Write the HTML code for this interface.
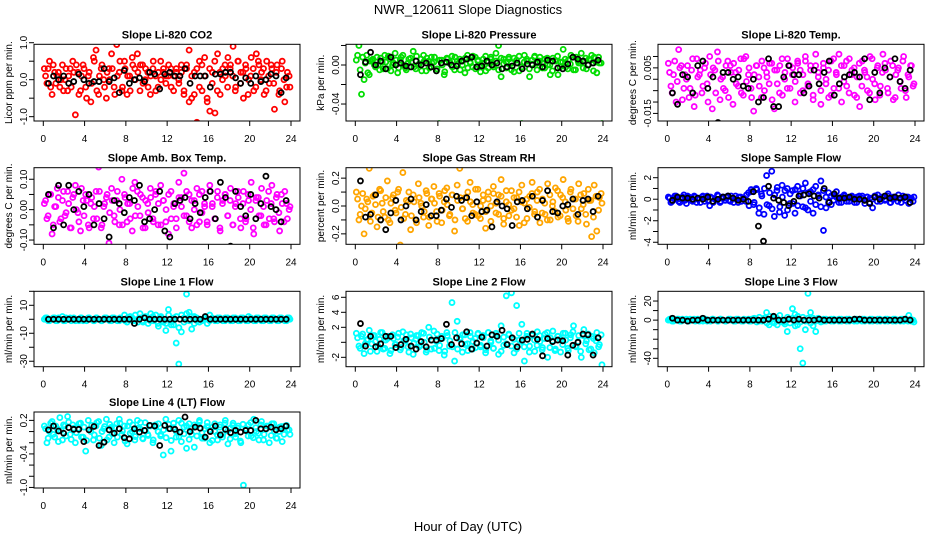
<!DOCTYPE html>
<html><head><meta charset="utf-8">
<style>
html,body{margin:0;padding:0;background:#fff;}
svg{display:block;font-family:"Liberation Sans",Arial,sans-serif;}
</style></head>
<body>
<svg id="chart" width="936" height="540" viewBox="0 0 936 540" xmlns="http://www.w3.org/2000/svg">
<rect width="936" height="540" fill="#fff"/>
<text x="468" y="14" font-size="13" text-anchor="middle">NWR_120611  Slope Diagnostics</text>
<text x="468" y="531" font-size="13" text-anchor="middle">Hour of Day (UTC)</text>
<g id="panels"></g>
</svg>
<script>
// ---- data ----
const xTickLabels = [0,4,8,12,16,20,24];
const co2Values = [0.3,-0.1,0.5,-0.4,0.2,0.1,-0.2,0.4,0.0,-0.3,0.3,0.5,-0.95,0.2,-0.3,0.4,-0.2,0.1,-0.6,0.6,0.8,-0.4,0.3,0.0,-0.5,0.3,0.7,-0.2,0.95,0.2,-0.3,0.5,-0.4,0.1,0.6,0.3,0.7,-0.3,0.4,0.0,0.2,-0.4,0.3,0.1,-0.2,0.5,0.2,-0.1,0.1,0.3,-0.3,0.2,0.0,0.4,-0.4,0.3,0.8,-0.5,0.2,-1.15,0.5,-0.3,0.6,-0.6,-0.85,0.2,-0.9,0.7,-0.4,0.3,0.1,0.6,0.4,0.9,-0.2,0.5,0.2,-0.5,0.3,0.0,0.6,-0.3,0.7,0.4,0.2,-0.4,0.5,-0.1,0.3,-0.8,0.4,-0.3,0.5,-0.6,0.2,-0.2];
const co2Values2 = [0.1,0.3,-0.2,0.4,-0.1,0.2,0.0,-0.3,0.3,0.1,-0.2,0.2,0.4,-0.4,0.1,0.3,-0.5,0.2,-0.1,0.5,-0.3,0.1,0.4,-0.2,0.2,0.0,0.3,-0.4,0.1,0.5,-0.2,0.3,0.1,-0.3,0.4,0.0,0.2,0.4,-0.1,0.3,-0.2,0.1,0.5,-0.3,0.2,0.0,0.3,0.1,0.4,-0.2,0.1,0.3,-0.1,0.2,-0.3,0.4,-0.6,0.1,-0.4,0.3,-0.2,0.4,0.1,-0.5,0.3,-0.1,0.5,-0.3,0.2,0.0,0.4,-0.2,0.3,0.1,-0.3,0.5,-0.1,0.2,0.4,-0.4,0.1,0.3,-0.2,0.5,0.0,0.3,-0.3,0.1,0.4,-0.1,0.2,-0.4,0.3,0.0,-0.2,0.1];
const co2Hourly = [-0.1,0.1,0.0,0.1,-0.1,-0.05,0.15,0.0,-0.1,-0.05,-0.05,0.3,-0.05,0.05,-0.35,0.25,-0.1,0.0,0.05,-0.05,0.2,0.15,-0.25,0.15,0.2,0.1,0.1,0.3,-0.1,0.1,0.1,0.1,-0.2,0.15,0.15,0.2,0.2,0.05,-0.1,0.05,-0.1,0.1,-0.05,0.0,0.15,0.1,-0.35,0.05];
const presValues = [0.005,0.02,-0.03,-0.015,0.01,-0.01,0.005,0.0,0.008,-0.005,0.003,0.01,-0.004,0.006,0.0,0.012,-0.008,0.005,0.01,-0.003,0.002,0.007,0.014,-0.004,0.0,0.006,0.01,-0.006,0.004,0.008,0.003,-0.006,-0.06,0.005,-0.01,0.007,0.002,0.009,-0.005,0.004,0.006,0.0,-0.008,0.01,0.003,-0.002,0.008,0.004,-0.007,0.002,0.009,-0.003,0.006,0.0,0.012,0.02,-0.012,0.006,0.003,0.008,-0.005,0.007,0.002,-0.006,-0.06,0.01,0.004,-0.012,0.005,0.009,0.002,0.008,-0.003,0.006,0.0,-0.01,0.007,0.004,-0.01,0.003,0.016,-0.002,0.005,0.01,-0.005,0.008,0.002,0.012,0.004,-0.004,0.006,0.01,0.008,-0.008,0.002,-0.06];
const presValues2 = [0.01,-0.005,0.008,0.002,-0.008,0.004,0.006,-0.002,0.0,0.007,-0.004,0.003,0.009,-0.006,0.002,0.005,-0.003,0.008,0.0,-0.005,0.006,0.003,-0.002,0.009,0.001,-0.006,0.004,0.007,-0.003,0.002,0.008,-0.004,0.005,0.0,-0.007,0.006,0.003,-0.002,0.008,0.001,-0.005,0.004,0.007,-0.003,0.002,0.009,-0.004,0.005,0.0,0.006,-0.006,0.003,0.008,-0.002,0.004,-0.005,0.007,0.001,-0.003,0.006,0.002,-0.007,0.005,0.009,-0.002,0.003,0.006,-0.004,0.001,0.008,-0.005,0.004,0.002,-0.003,0.007,0.0,-0.006,0.005,0.009,-0.002,0.003,0.006,-0.004,0.001,0.008,-0.005,0.004,0.002,-0.003,0.007,0.0,0.005,-0.006,0.003,0.008,0.002];
const presHourly = [-0.01,0.003,0.013,0.0,0.004,-0.004,0.008,0.0,0.002,-0.001,-0.002,0.004,0.0,0.002,-0.002,-0.006,0.002,0.003,0.0,-0.001,0.004,0.006,0.008,-0.002,-0.001,0.004,0.0,0.002,-0.004,-0.002,-0.001,0.002,-0.004,0.001,0.0,0.003,-0.002,0.005,0.004,-0.003,-0.004,0.001,0.008,0.006,0.004,0.0,0.002,0.005];
const tempValues = [0.007,-0.003,0.002,-0.01,0.013,0.006,-0.004,0.0,-0.008,0.004,-0.012,0.009,0.002,-0.006,0.005,-0.002,0.010,-0.013,0.004,0.012,-0.009,0.001,-0.005,0.008,0.006,-0.011,0.003,-0.003,0.009,-0.007,0.010,0.002,-0.004,-0.014,0.006,0.001,-0.008,0.005,0.003,-0.002,0.007,-0.013,0.004,-0.006,0.009,0.000,-0.004,0.006,0.002,-0.010,0.008,0.004,-0.005,0.010,-0.002,0.006,-0.007,0.011,0.003,-0.011,0.005,0.000,-0.008,0.008,-0.004,0.002,0.011,-0.010,0.006,-0.003,0.009,0.004,-0.007,0.001,-0.012,0.008,0.003,-0.005,0.010,0.000,-0.009,0.006,-0.003,0.011,0.004,-0.006,0.008,-0.009,0.002,0.005,-0.004,0.010,-0.008,0.001,0.006,-0.002];
const tempValues2 = [0.003,-0.006,0.008,-0.001,0.005,-0.009,0.002,0.006,-0.004,0.009,-0.007,0.001,0.004,-0.003,0.007,-0.010,0.002,0.005,-0.006,0.008,0.000,-0.004,0.006,-0.008,0.003,0.007,-0.002,0.004,-0.006,0.009,-0.001,0.005,-0.008,0.002,0.006,-0.003,0.008,-0.005,0.001,0.007,-0.009,0.004,-0.002,0.006,-0.007,0.003,0.009,-0.004,0.005,-0.001,0.007,-0.006,0.002,0.008,-0.003,0.004,-0.009,0.006,0.001,-0.005,0.007,-0.002,0.004,-0.007,0.009,0.003,-0.004,0.006,-0.001,0.008,-0.006,0.002,0.005,-0.008,0.007,-0.003,0.004,0.001,-0.006,0.009,-0.002,0.005,-0.007,0.003,0.007,-0.004,0.001,0.006,-0.008,0.004,-0.001,0.008,-0.005,0.002,0.006,-0.003];
const tempHourly = [-0.006,-0.011,0.002,0.001,-0.006,0.006,0.008,-0.004,0.001,-0.019,0.003,0.003,0.000,0.001,-0.003,-0.004,0.000,-0.010,-0.008,0.009,-0.012,-0.012,0.001,0.006,0.002,0.002,-0.006,-0.003,0.004,-0.002,0.003,0.008,-0.007,-0.002,0.001,0.002,0.003,0.001,0.009,-0.009,0.003,-0.006,0.005,0.001,0.009,-0.001,-0.004,0.004];
const ambValues = [0.02,-0.03,0.05,-0.08,0.01,0.07,-0.04,0.03,-0.02,0.06,-0.06,0.04,0.08,-0.01,-0.07,0.03,0.05,-0.05,0.02,-0.03,0.06,0.14,-0.06,0.01,0.04,-0.11,0.07,-0.02,0.03,-0.05,0.10,0.05,-0.04,0.02,-0.07,0.09,0.06,-0.02,0.04,-0.06,0.02,0.07,-0.03,0.05,-0.05,0.08,0.03,-0.04,-0.08,0.06,0.01,-0.03,0.09,0.04,0.12,-0.02,0.05,-0.06,0.03,0.07,-0.04,0.06,0.01,-0.05,0.08,0.02,-0.03,0.06,-0.07,0.03,0.05,-0.02,0.07,-0.05,0.02,0.04,-0.06,0.06,-0.03,0.03,0.09,-0.08,0.04,-0.02,0.07,-0.05,0.03,-0.03,0.08,-0.04,0.05,-0.07,0.02,0.06,-0.03,0.01];
const ambValues2 = [0.03,-0.02,0.05,-0.05,0.01,0.04,-0.03,0.06,-0.01,0.02,-0.06,0.05,0.00,-0.04,0.07,-0.02,0.03,-0.06,0.04,0.01,-0.03,0.06,-0.05,0.02,0.05,-0.01,0.03,-0.04,0.06,0.00,-0.05,0.04,0.02,-0.03,0.07,-0.02,0.01,0.05,-0.06,0.03,-0.01,0.04,-0.04,0.06,0.02,-0.05,0.03,0.00,0.05,-0.03,0.02,-0.06,0.04,0.01,-0.02,0.06,-0.04,0.03,0.00,-0.05,0.05,-0.01,0.02,-0.04,0.06,0.01,-0.03,0.04,-0.06,0.02,0.05,-0.02,0.03,-0.05,0.01,0.06,-0.03,0.02,-0.04,0.05,0.00,-0.06,0.03,0.04,-0.02,0.01,-0.05,0.06,0.02,-0.03,0.04,-0.01,0.05,-0.04,0.02,0.00];
const ambHourly = [0.05,-0.06,0.08,-0.05,0.08,0.00,0.06,0.01,0.05,-0.05,0.02,-0.03,-0.09,0.03,0.02,-0.01,0.04,0.03,0.08,-0.04,-0.03,0.00,0.06,-0.07,-0.09,0.02,0.03,0.04,-0.03,0.02,-0.01,0.04,0.06,-0.03,0.09,0.04,-0.12,0.06,0.01,-0.02,0.05,-0.03,0.02,0.11,0.01,0.00,-0.04,0.03];
const rhValues = [0.1,-0.1,0.0,-0.2,0.05,0.27,-0.05,0.08,-0.15,0.12,0.02,-0.08,0.18,-0.12,0.06,-0.03,0.1,-0.28,0.24,-0.06,0.03,-0.17,0.08,-0.1,0.16,0.02,-0.08,0.11,-0.14,0.05,0.14,-0.04,0.09,-0.12,0.03,0.13,-0.07,0.08,-0.18,0.15,0.27,-0.02,0.06,-0.11,0.17,0.01,-0.06,0.12,-0.09,0.04,-0.16,0.1,0.0,0.14,-0.05,0.08,0.19,-0.13,0.03,-0.07,0.11,-0.02,0.06,-0.14,0.15,0.02,-0.09,0.07,0.17,-0.04,0.1,-0.12,0.05,-0.06,0.16,-0.1,0.03,0.13,-0.08,0.08,0.19,-0.03,-0.11,0.12,0.05,-0.07,0.16,-0.02,0.09,-0.13,0.04,-0.22,0.15,-0.18,0.06,0.02];
const rhValues2 = [0.05,-0.06,0.09,-0.02,0.03,-0.11,0.07,0.01,-0.08,0.11,-0.04,0.06,-0.1,0.02,0.08,-0.05,0.12,-0.01,-0.09,0.04,0.1,-0.07,0.03,-0.12,0.06,0.0,-0.04,0.09,-0.08,0.05,0.02,-0.11,0.07,-0.03,0.11,0.01,-0.06,0.08,-0.1,0.04,0.06,-0.02,-0.09,0.1,0.03,-0.05,0.12,-0.07,0.0,0.08,-0.04,0.05,-0.11,0.09,0.02,-0.06,0.07,-0.09,0.11,0.01,-0.03,0.06,-0.08,0.1,0.03,-0.12,0.05,-0.01,0.09,-0.06,0.04,0.12,-0.05,0.02,-0.1,0.08,0.0,-0.04,0.11,-0.07,0.06,0.03,-0.09,0.1,-0.02,0.05,-0.11,0.08,0.01,-0.06,0.12,0.04,-0.08,0.07,-0.03,0.09];
const rhHourly = [0.18,-0.08,-0.06,0.08,-0.1,-0.17,-0.05,0.04,-0.1,0.0,0.05,-0.1,-0.04,0.01,-0.07,-0.07,-0.03,0.05,-0.01,0.07,0.04,0.06,-0.07,0.03,-0.04,-0.03,-0.15,0.03,0.0,-0.02,-0.14,0.03,0.04,-0.02,0.07,-0.08,0.04,0.11,-0.04,-0.05,0.0,0.01,0.05,-0.06,0.04,0.05,-0.04,0.07];
const sampleValues = [0.2,-0.3,0.1,0.3,-0.2,0.0,0.4,-0.4,0.2,-0.1,0.3,-0.3,0.1,0.2,-0.2,0.3,-0.6,0.1,0.0,0.4,-0.3,0.2,-0.1,0.3,-0.2,0.1,0.3,-0.3,0.2,0.0,-0.2,0.6,0.9,-0.5,1.0,-1.3,0.5,-1.4,2.2,-0.6,2.6,-1.6,0.8,-1.2,1.3,-1.5,1.0,-0.4,0.8,-1.3,1.2,0.5,-0.7,1.5,-1.0,0.7,-1.3,1.2,0.3,1.7,-2.9,-0.8,0.6,-0.5,0.4,0.7,-0.3,0.2,0.4,-0.2,0.1,0.3,-0.3,0.2,0.0,0.3,-0.4,0.2,0.1,-0.8,0.3,0.4,-0.2,0.2,0.0,0.5,-0.3,0.2,0.1,0.4,-0.3,0.1,0.2,-0.4,0.1,0.2];
const sampleValues2 = [0.1,-0.2,0.3,0.0,-0.3,0.2,-0.1,0.3,0.1,-0.2,0.2,0.0,-0.3,0.3,0.1,-0.1,0.2,-0.3,0.0,0.3,-0.2,0.1,0.2,-0.1,0.3,-0.3,0.0,0.2,-0.2,0.1,0.4,-0.6,0.7,-0.3,0.9,-0.8,0.3,1.0,-0.5,0.6,-0.9,0.4,1.1,-0.7,0.2,0.8,-1.0,0.5,-0.4,0.9,-0.6,0.3,1.0,-0.8,0.6,-0.2,0.9,-0.5,0.4,-0.7,0.8,0.2,-0.3,0.3,-0.1,0.2,0.0,-0.3,0.3,0.1,-0.2,0.2,0.0,-0.3,0.3,0.1,-0.1,0.2,-0.3,0.0,0.3,-0.2,0.1,0.2,-0.1,0.3,-0.3,0.0,0.2,-0.2,0.1,0.3,-0.1,0.2,0.0,-0.2];
const sampleHourly = [-0.1,0.2,0.1,0.1,0.0,0.1,0.0,0.2,-0.2,0.0,0.2,0.3,0.1,-0.1,0.0,-0.2,0.7,-2.5,-3.9,1.2,0.1,-0.1,-0.3,-0.6,-0.2,0.3,0.4,0.5,0.3,0.1,1.0,-0.3,0.5,0.1,0.1,0.2,0.0,0.0,-0.1,-0.4,0.2,0.0,0.3,0.1,0.2,0.1,0.2,-0.3];
const line1Values = [0,1,-1,0,1,-1,0,2,-1,0,1,0,-1,0,1,-1,0,1,0,-1,1,0,-1,0,1,0,-1,1,0,-1,0,3,-2,0,1,-1,0,4,-1,1,0,-1,2,0,-3,1,-1,-8,7,-2,-4,-17,-32,-9,1,18,5,-7,2,-1,-2,0,1,-3,3,0,-1,1,0,-1,1,0,-1,1,0,-1,1,0,-1,2,0,-1,1,0,-1,1,0,-1,1,0,-1,1,0,-1,1,0];
const line1Values2 = [1,-1,0,1,-1,1,0,-1,1,0,-1,1,0,-1,1,0,-1,1,0,-1,1,0,-1,1,0,-1,1,0,-1,1,0,-1,1,2,-1,3,-2,1,-2,2,-3,4,-1,3,-5,2,-2,-3,3,-4,1,2,-6,3,-2,4,-1,2,-3,1,0,-1,1,0,-1,1,0,-1,1,0,-1,1,0,-1,1,0,-1,1,0,-1,1,0,-1,1,0,-1,1,0,-1,1,0,-1,1,0,-1,1];
const line1Hourly = [0,0,0,0,0,0,0,0,0,0,0,0,0,0,0,0,0,-3,0,1,0,0,0,0,0,0,0,0,0,0,0,2,0,0,0,0,0,0,0,0,0,0,0,0,0,0,0,0];
const line2Values = [1.2,-0.5,0.8,-1.5,0.3,1.6,-0.2,0.9,-1.2,0.4,1.3,-0.8,0.5,-1.5,1.0,-0.3,0.7,-1.0,1.4,0.2,-0.6,1.1,-1.6,0.4,0.9,-0.4,1.2,-1.3,2.0,-0.9,1.5,0.1,-1.1,0.8,-1.7,1.3,-0.5,5.3,-2.5,2.8,0.6,-1.3,1.0,-0.2,1.3,-0.9,0.5,1.1,-0.6,0.9,-1.4,1.3,0.2,-0.8,1.2,-1.6,2.2,-0.4,6.2,1.0,6.6,-1.4,4.9,0.3,2.4,-2.5,1.2,-0.5,0.9,-1.2,1.4,0.1,-0.7,1.1,-2.0,0.6,1.5,-0.9,0.8,-1.3,1.2,0.3,-1.1,1.0,2.2,-0.6,0.9,-2.0,1.7,0.2,-1.0,0.8,-1.4,1.3,-0.3,-3.0];
const line2Values2 = [0.6,-0.8,1.1,-0.2,0.4,-1.2,0.9,0.1,-0.5,1.3,-0.9,0.3,0.8,-1.1,0.5,-0.3,1.2,-0.7,0.2,1.0,-1.3,0.6,-0.1,0.9,-0.6,1.3,0.0,-1.0,0.7,0.3,-0.8,1.1,-0.4,0.5,-1.2,0.9,0.2,-0.6,1.3,-0.9,0.4,1.0,-0.3,-1.1,0.8,0.1,-0.7,1.2,-0.4,0.6,-1.0,1.3,0.0,-0.8,0.9,0.3,-1.2,0.7,-0.2,1.1,-0.5,0.4,-0.9,1.2,0.1,-0.6,0.8,-1.3,1.0,0.3,-0.4,0.9,-1.0,0.5,1.3,-0.7,0.2,-1.1,0.8,0.4,-0.3,1.2,-0.8,0.6,1.4,-0.5,0.1,-1.2,0.9,-0.2,1.1,-0.9,0.5,0.2,-0.6,1.0];
const line2Hourly = [2.5,-0.5,0.8,-0.6,-0.2,0.8,0.8,-0.7,-0.3,0.4,-0.5,-0.9,0.1,-0.6,0.3,0.3,0.5,2.4,-0.3,0.6,-0.2,1.4,-0.9,-0.1,0.7,-0.5,1.0,0.8,1.6,-0.3,0.6,-0.6,0.3,0.4,1.1,0.4,-1.8,0.5,0.1,0.3,0.2,-1.7,-0.4,0.0,1.1,1.0,-1.7,0.6];
const line3Values = [0,1,-1,0,1,-1,0,1,-1,0,1,0,-1,0,1,-1,0,1,0,-1,1,0,-1,0,1,0,-1,1,0,-1,0,1,-1,0,1,-1,0,2,8,-5,1,-3,2,-1,0,-2,-12,1,12,6,-5,-30,-45,-10,28,8,-6,-12,2,-2,1,-1,0,1,-1,0,1,-1,0,1,-1,0,1,-1,0,1,-1,0,1,-1,0,1,-1,0,1,-1,0,1,-1,0,1,-1,0,5,-1,-2];
const line3Values2 = [1,-1,0,1,-1,1,0,-1,1,0,-1,1,0,-1,1,0,-1,1,0,-1,1,0,-1,1,0,-1,1,0,-1,1,0,-1,1,2,-2,3,-1,2,-3,4,-2,3,-5,5,-2,-4,3,-3,2,-6,4,-2,3,-1,2,-3,2,-1,1,0,-1,1,0,-1,1,0,-1,1,0,-1,1,0,-1,1,0,-1,1,0,-1,1,0,-1,1,0,-1,1,0,-1,1,0,-1,1,0,-1,1,0];
const line3Hourly = [2,0,0,-1,0,0,2,0,0,0,0,0,0,0,0,0,0,0,0,1,4,0,0,1,0,1,0,0,0,1,0,0,0,0,0,0,1,1,0,0,0,0,0,0,0,0,1,0];
const line4Values = [0.1,-0.2,0.0,0.18,-0.1,0.05,0.25,-0.15,0.1,0.27,-0.05,0.12,-0.2,0.05,0.15,-0.1,-0.35,0.2,0.0,-0.15,0.1,0.18,-0.25,0.05,0.22,-0.1,0.08,-0.2,0.14,0.22,-0.05,0.1,-0.22,0.17,0.0,-0.15,0.2,0.05,-0.12,0.16,-0.05,0.1,-0.2,0.12,0.0,-0.08,-0.42,0.22,0.05,-0.35,0.15,-0.1,0.2,-0.18,0.08,-0.3,0.14,-0.05,-0.28,0.1,0.2,-0.12,0.05,0.16,-0.2,0.08,0.0,-0.15,0.12,-0.05,0.2,-0.22,0.06,0.15,-0.1,0.1,-0.2,-0.96,0.05,0.12,-0.08,0.22,0.0,-0.15,0.18,-0.05,0.1,-0.2,0.14,0.0,-0.12,0.08,-0.18,0.1,0.02,-0.05];
const line4Values2 = [0.05,-0.12,0.15,-0.05,0.1,-0.18,0.02,0.12,-0.08,0.17,-0.14,0.06,-0.02,0.14,-0.1,0.08,-0.16,0.03,0.11,-0.06,0.16,-0.12,0.0,0.09,-0.15,0.13,-0.04,0.07,-0.1,0.15,0.01,-0.17,0.1,-0.03,0.12,-0.09,0.06,0.16,-0.13,0.02,-0.07,0.11,-0.15,0.08,0.14,-0.05,0.03,-0.11,0.13,-0.16,0.07,0.0,-0.09,0.15,-0.04,0.1,-0.14,0.05,0.12,-0.08,0.17,-0.02,-0.12,0.09,0.03,-0.16,0.14,-0.06,0.08,-0.1,0.15,0.01,-0.13,0.11,-0.04,0.06,-0.17,0.13,0.02,-0.08,0.16,-0.11,0.07,-0.03,0.12,-0.15,0.04,0.1,-0.07,0.14,-0.12,0.0,0.09,-0.05,0.11,0.03];
const line4Hourly = [0.03,0.1,0.01,-0.03,0.07,0.04,0.04,-0.18,0.03,0.09,-0.25,-0.19,0.03,-0.03,0.05,-0.11,-0.13,0.05,-0.01,0.02,0.11,0.1,-0.25,0.11,0.05,0.04,-0.01,0.26,0.0,0.08,0.06,-0.1,0.0,0.1,-0.06,0.04,-0.02,0.02,-0.01,0.02,0.02,0.2,0.05,0.05,0.08,0.03,0.05,0.1];
const panelTitles = ["Slope Li-820 CO2","Slope Li-820 Pressure","Slope Li-820 Temp.","Slope Amb. Box Temp.","Slope Gas Stream RH","Slope Sample Flow","Slope Line 1 Flow","Slope Line 2 Flow","Slope Line 3 Flow","Slope Line 4 (LT) Flow"];
const yTitles = ["Licor ppm per min.","kPa per min.","degrees C per min.","degrees C per min.","percent per min.","ml/min per min.","ml/min per min.","ml/min per min.","ml/min per min.","ml/min per min."];
const yTickValues = [[-1,-0.5,0,0.5,1],[-0.04,-0.02,0,0.02],[-0.015,-0.01,-0.005,0,0.005,0.01],[-0.1,-0.05,0,0.05,0.1],[-0.2,-0.1,0,0.1,0.2],[-4,-3,-2,-1,0,1,2],[-30,-20,-10,0,10,20],[-2,0,2,4,6],[-40,-30,-20,-10,0,10,20],[-1.0,-0.8,-0.6,-0.4,-0.2,0,0.2]];
const yTickLabels = [["-1.0","","0.0","","1.0"],["-0.04","","0.00",""],["-0.015","","","","0.005",""],["-0.10","","0.00","","0.10"],["-0.2","","0.0","","0.2"],["-4","","-2","","0","","2"],["-30","","-10","","10",""],["-2","","2","4","6"],["-40","","","","0","","20"],["-1.0","","","-0.4","","","0.2"]];
const yLimits = [[-1.117,0.957],[-0.0574,0.0212],[-0.01833,0.01535],[-0.114,0.138],[-0.275,0.275],[-4.19,2.93],[-33.9,20],[-3.25,6.8],[-48.8,30.2],[-1.01,0.35]];
const series = [co2Values,presValues,tempValues,ambValues,rhValues,sampleValues,line1Values,line2Values,line3Values,line4Values];
const series2 = [co2Values2,presValues2,tempValues2,ambValues2,rhValues2,sampleValues2,line1Values2,line2Values2,line3Values2,line4Values2];
const hourly = [co2Hourly,presHourly,tempHourly,ambHourly,rhHourly,sampleHourly,line1Hourly,line2Hourly,line3Hourly,line4Hourly];
const colors = ["#ff0000","#00dd00","#ff00ff","#ff00ff","#ffa500","#0000ff","#00ffff","#00ffff","#00ffff","#00ffff"];

// ---- layout ----
const NS="http://www.w3.org/2000/svg";
const colLeft=[34,346,658], boxW=266;
const rowTop=[44.3,167.7,291.3,412], boxH=[76.7,76.6,75.4,76];
const root=document.getElementById('panels');
function mk(tag,attrs,parent){const e=document.createElementNS(NS,tag);for(const k in attrs)e.setAttribute(k,attrs[k]);parent.appendChild(e);return e;}

series.forEach((vals,p)=>{
  const c=p%3, r=Math.floor(p/3);
  const L=colLeft[c], T=rowTop[r], H=boxH[r], B=T+H;
  const lim=yLimits[p];
  const xs=h=>L+9.3+h/24*247.7;
  const ys=v=>B-(v-lim[0])/(lim[1]-lim[0])*H;
  const g=mk('g',{},root);
  
  
  const clip=mk('clipPath',{id:'clip'+p},g);
  mk('rect',{x:L,y:T,width:boxW,height:H},clip);
  const t=mk('text',{x:L+boxW/2,y:T-6,'font-size':11,'font-weight':'bold','text-anchor':'middle'},g);
  t.textContent=panelTitles[p];
  
  
  const yt=mk('text',{transform:`translate(${L-22},${T+H/2}) rotate(-90)`,'font-size':10,'text-anchor':'middle'},g);
  yt.textContent=yTitles[p];
  
  
  const pg=mk('g',{'clip-path':`url(#clip${p})`,fill:'none','stroke-width':1.8},g);
  const n=vals.length;
  vals.forEach((v,i)=>{
    const h=0.1+i*23.8/(n-1);
    const ci=mk('circle',{cx:xs(h),cy:ys(v),r:2.5,stroke:colors[p]},pg);
    
    
  });
  const v2=series2[p], n2=v2.length;
  v2.forEach((v,i)=>{
    const h=0.22+i*23.6/(n2-1);
    const ci=mk('circle',{cx:xs(h),cy:ys(v),r:2.5,stroke:colors[p]},pg);
    
    
  });
  hourly[p].forEach((v,i)=>{
    const h=0.5+i*0.49;
    const ci=mk('circle',{cx:xs(h),cy:ys(v),r:2.5,stroke:'#000'},pg);
    
    
  });
  const bx=mk('rect',{x:L,y:T,width:boxW,height:H,fill:'none',stroke:'#000','stroke-width':1},g);
  
  
  xTickLabels.forEach(v=>{
    const x=xs(v);
    mk('line',{x1:x,x2:x,y1:B,y2:B+5,stroke:'#000'},g);
    const tl=mk('text',{x:x,y:B+21,'font-size':10,'text-anchor':'middle'},g);
    tl.textContent=v;
    
    
  });
  yTickValues[p].forEach((v,i)=>{
    const y=ys(v);
    mk('line',{x1:L-5,x2:L,y1:y,y2:y,stroke:'#000'},g);
    const lab=yTickLabels[p][i];
    if(lab){
      const tl=mk('text',{transform:`translate(${L-7},${y}) rotate(-90)`,'font-size':10,'text-anchor':'middle'},g);
      tl.textContent=lab;
      
      
    }
  });
});
</script>
</body></html>
